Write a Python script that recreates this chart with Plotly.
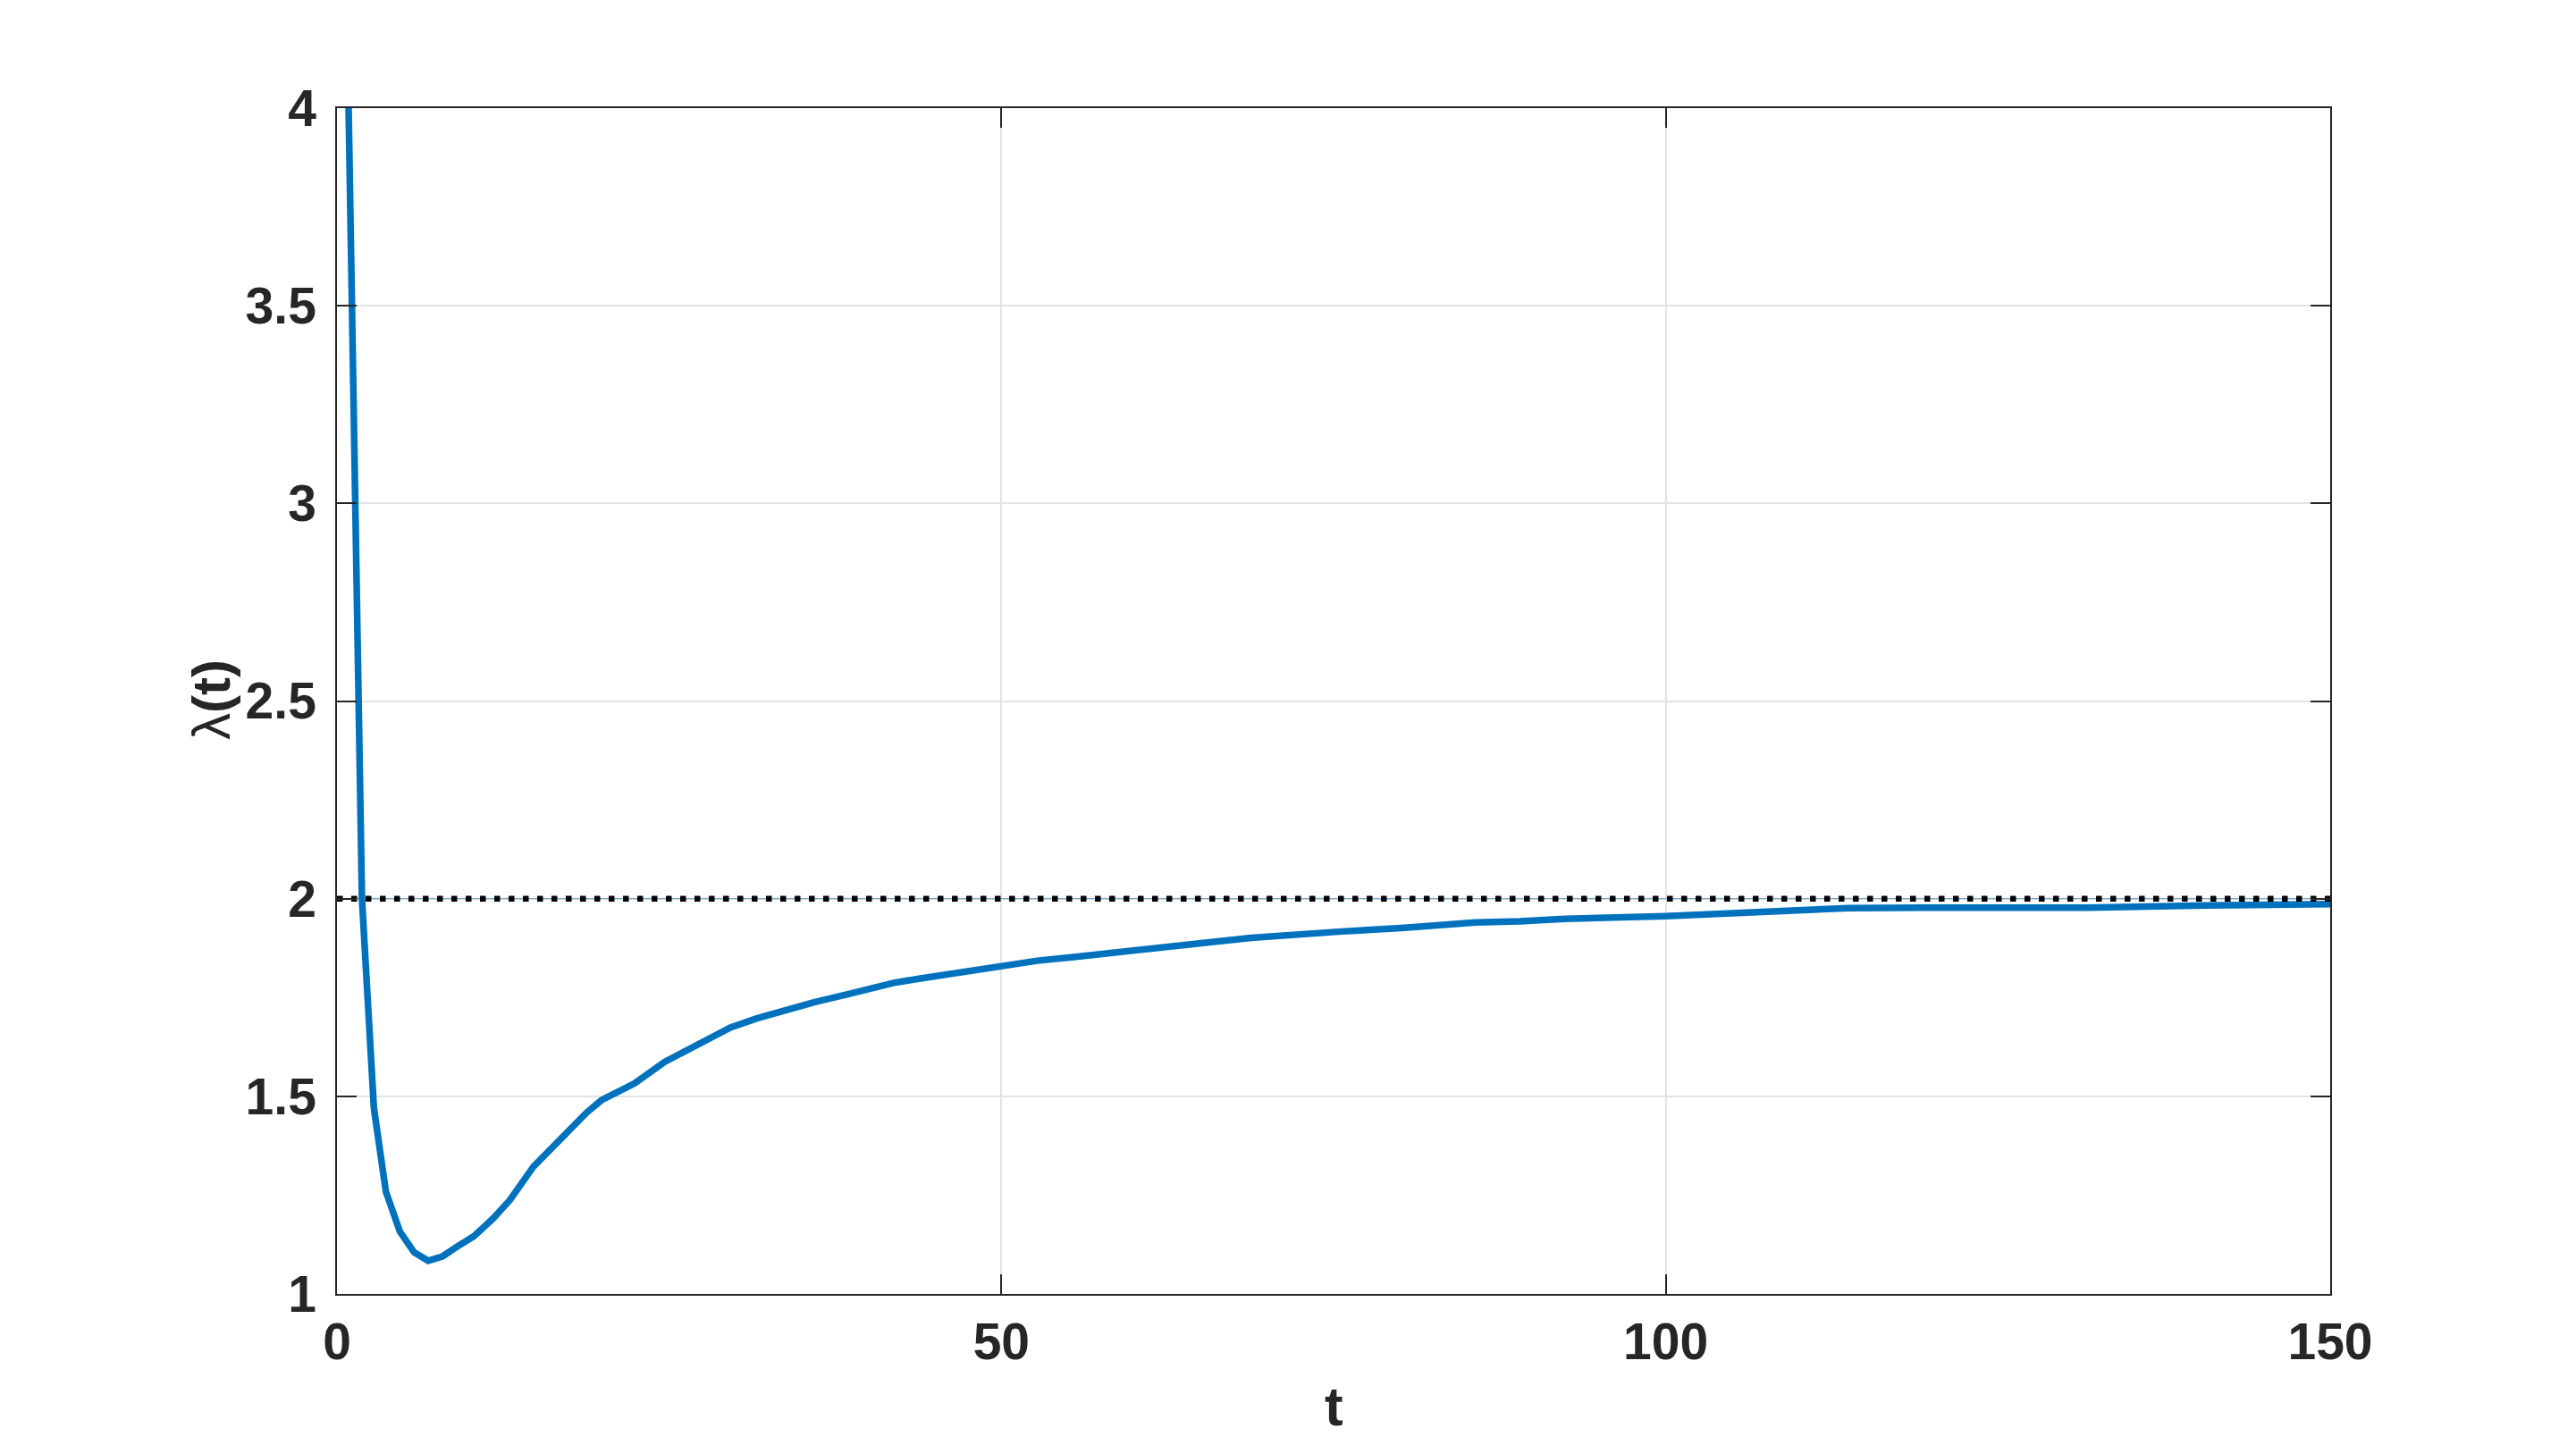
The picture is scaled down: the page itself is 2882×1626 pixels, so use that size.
import plotly.graph_objects as go

# Data
t_vals = [0.75, 1.88, 2.78, 3.68, 4.73, 5.81, 6.86, 7.94, 9.06, 10.3, 11.75, 13.0,
          14.78, 16.1, 17.7, 18.8, 19.9, 21.3, 22.4, 24.65, 26.0, 27.1, 28.5, 29.6,
          31.6, 33.7, 35.9, 38.3, 40.35, 41.9, 43.9, 46.2, 48.0, 50.0, 52.7, 55.6,
          57.6, 59.9, 62.6, 65.5, 68.8, 72.9, 75.6, 80.1, 83.4, 85.7, 89.0, 92.4,
          100.0, 107.0, 113.7, 119.3, 124.9, 131.7, 140.6, 150.0]
lam_vals = [4.25, 2.0, 1.47, 1.259, 1.158, 1.105, 1.084, 1.095, 1.120, 1.146, 1.191, 1.237,
            1.322, 1.369, 1.423, 1.459, 1.490, 1.512, 1.533, 1.587, 1.610, 1.629, 1.655, 1.674,
            1.697, 1.719, 1.738, 1.757, 1.775, 1.787, 1.798, 1.809, 1.821, 1.828, 1.843, 1.853,
            1.861, 1.868, 1.881, 1.889, 1.901, 1.913, 1.917, 1.926, 1.936, 1.940, 1.943, 1.949,
            1.956, 1.966, 1.976, 1.977, 1.976, 1.977, 1.983, 1.986]
ref_t = [0, 150]
ref_lam = [2, 2]

x_ticks = [0, 50, 100, 150]
y_ticks = [1, 1.5, 2, 2.5, 3, 3.5, 4]

W, H = 2882, 1626
OFF = 8  # page body margin
L, R, T, B = 377 - OFF, 2607 - OFF, 121 - OFF, 1448 - OFF

fig = go.Figure()
fig.add_trace(go.Scatter(x=ref_t, y=ref_lam, mode="lines",
                         line=dict(color="rgba(0,114,189,0.6)", width=1),
                         hoverinfo="skip", showlegend=False))
fig.add_trace(go.Scatter(x=t_vals, y=lam_vals, mode="lines",
                         line=dict(color="#0072BD", width=7.5),
                         showlegend=False))
fig.add_trace(go.Scatter(x=ref_t, y=ref_lam, mode="lines",
                         line=dict(color="#000000", width=6.5, dash="6.5px,9.5px"),
                         showlegend=False))

axis_common = dict(
    showline=True, linecolor="#262626", linewidth=1.5, mirror="ticks",
    ticks="inside", ticklen=22, tickwidth=1.5, tickcolor="#262626",
    showgrid=True, gridcolor="#e3e3e3", gridwidth=1.5, zeroline=False,
    tickfont=dict(family="Liberation Sans, Arial, sans-serif", size=57,
                  color="#262626", weight="bold"),
)

fig.update_xaxes(range=[0, 150], tickvals=x_ticks, ticktext=[str(v) for v in x_ticks],
                 ticklabelstandoff=3, **axis_common)
fig.update_yaxes(range=[1, 4], tickvals=y_ticks,
                 ticktext=[("%g" % v) for v in y_ticks],
                 ticklabelstandoff=10, **axis_common)

fig.add_annotation(text="t", xref="paper", yref="paper",
                   x=0.5, y=-(1573 - 1448) / (B - T), xanchor="center", yanchor="middle",
                   showarrow=False,
                   font=dict(family="Liberation Sans, Arial, sans-serif", size=62,
                             color="#262626", weight="bold"))
fig.add_annotation(text="λ<b>(t)</b>", xref="paper", yref="paper",
                   x=(236 - 377) / (R - L), y=(1448 - 783) / (B - T),
                   xanchor="center", yanchor="middle", textangle=-90,
                   showarrow=False,
                   font=dict(family="Liberation Sans, Arial, sans-serif", size=60,
                             color="#262626"))

fig.update_layout(
    width=W, height=H,
    margin=dict(l=L, r=W - R, t=T, b=H - B, pad=0),
    paper_bgcolor="white", plot_bgcolor="white",
    showlegend=False,
)

fig.write_html("out.html")
